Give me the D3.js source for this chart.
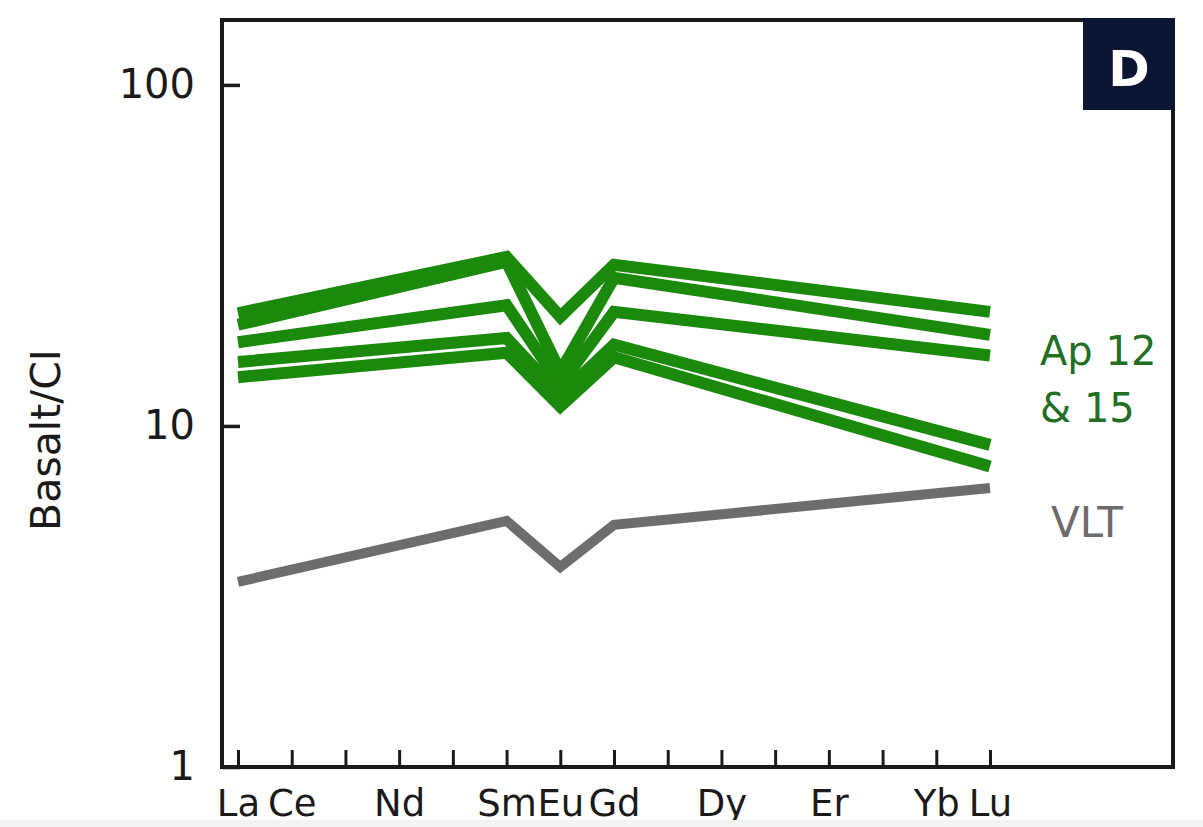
<!DOCTYPE html>
<html>
<head>
<meta charset="utf-8">
<script src="https://cdn.jsdelivr.net/npm/d3@7"></script>
<style>
  body { margin: 0; background: #fff; }
  svg { display: block; font-family: "DejaVu Sans", sans-serif; }
</style>
</head>
<body>
<svg id="chart" width="1203" height="827"></svg>
<script>
// rare earth elements along the x axis
let ree = ["La", "Ce", "Pr", "Nd", "Pm", "Sm", "Eu", "Gd", "Tb", "Dy", "Ho", "Er", "Tm", "Yb", "Lu"];
let tick_labels = ["La", "Ce", "", "Nd", "", "Sm", "Eu", "Gd", "", "Dy", "", "Er", "", "Yb", "Lu"];
let y_ticks = [1, 10, 100];

// elements where the profiles have vertices
let plotted = ["La", "Sm", "Eu", "Gd", "Lu"];

// Apollo 12 & 15 basalts (normalised to CI)
let ap_1 = [21.4, 31.3, 20.9, 29.7, 21.6];
let ap_2 = [19.8, 30.3, 14.4, 27.2, 18.5];
let ap_3 = [17.6, 22.6, 13.2, 21.6, 16.1];
let ap_4 = [15.4, 18.1, 12.3, 17.3, 8.8];
let ap_5 = [13.9, 16.4, 11.4, 15.9, 7.6];
// very low titanium basalt
let vlt = [3.49, 5.27, 3.86, 5.13, 6.58];

let green_series = [ap_1, ap_2, ap_3, ap_4, ap_5];

let svg = d3.select("#chart");

let m_left = 222, m_right = 1173, m_top = 20, m_bottom = 767;

let x = d3.scalePoint().domain(ree).range([238, 990]);
let y = d3.scaleLog().domain([1, 155]).range([m_bottom, m_top]);

let line = d3.line()
  .x(d => x(d[0]))
  .y(d => y(d[1]))
  .curve(d3.curveLinear);

function to_points(values){
  return plotted.map((el, i) => [el, values[i]]);
}

// axes, ticks point inward
let yAxis = d3.axisLeft(y).tickValues(y_ticks).tickFormat(d3.format("d"))
  .tickSizeInner(-18).tickSizeOuter(0).tickPadding(27);
let gy = svg.append("g").attr("transform", "translate(" + m_left + ",0)").call(yAxis);
gy.select(".domain").remove();
gy.selectAll(".tick line").attr("stroke", "#1a1a1a").attr("stroke-width", 3.5);
gy.selectAll(".tick text").attr("font-size", 40).attr("fill", "#1a1a1a")
  .attr("font-family", "DejaVu Sans, sans-serif");

let xAxis = d3.axisBottom(x).tickFormat((d, i) => tick_labels[i])
  .tickSizeInner(-17).tickSizeOuter(0).tickPadding(23);
let gx = svg.append("g").attr("transform", "translate(0," + m_bottom + ")").call(xAxis);
gx.select(".domain").remove();
gx.selectAll(".tick line").attr("stroke", "#1a1a1a").attr("stroke-width", 3);
gx.selectAll(".tick text").attr("font-size", 37).attr("fill", "#1a1a1a")
  .attr("font-family", "DejaVu Sans, sans-serif");

// profiles
svg.append("path")
  .attr("d", line(to_points(vlt)))
  .attr("fill", "none").attr("stroke", "#6d6d6d")
  .attr("stroke-width", 10).attr("stroke-linejoin", "miter");

svg.append("g").selectAll("path").data(green_series).enter().append("path")
  .attr("d", d => line(to_points(d)))
  .attr("fill", "none").attr("stroke", "#1b8a0c")
  .attr("stroke-width", 12).attr("stroke-linejoin", "miter")
  .attr("stroke-miterlimit", 6);

// frame
svg.append("rect")
  .attr("x", m_left).attr("y", m_top)
  .attr("width", m_right - m_left).attr("height", m_bottom - m_top)
  .attr("fill", "none").attr("stroke", "#1a1a1a").attr("stroke-width", 4);

// panel letter
svg.append("rect").attr("x", 1083).attr("y", 18).attr("width", 92).attr("height", 92)
  .attr("fill", "#0b1633");
svg.append("text").attr("x", 1129).attr("y", 86).attr("text-anchor", "middle")
  .attr("font-size", 50).attr("font-weight", "bold").attr("fill", "#fff").text("D");

// series labels
let ap_label = svg.append("text").attr("x", 1040).attr("font-size", 40).attr("fill", "#226e22");
ap_label.append("tspan").attr("x", 1040).attr("y", 365).text("Ap 12");
ap_label.append("tspan").attr("x", 1040).attr("y", 422).text("& 15");

svg.append("text").attr("x", 1051).attr("y", 537).attr("font-size", 42)
  .attr("fill", "#6b6b6b").text("VLT");

// y axis title
svg.append("text")
  .attr("transform", "translate(60,440) rotate(-90)")
  .attr("text-anchor", "middle").attr("font-size", 41).attr("fill", "#1a1a1a")
  .text("Basalt/CI");

// light strip at the bottom edge, as in the scanned figure
svg.append("rect").attr("x", 0).attr("y", 820).attr("width", 1203).attr("height", 7)
  .attr("fill", "#f3f3f3");
</script>
</body>
</html>
